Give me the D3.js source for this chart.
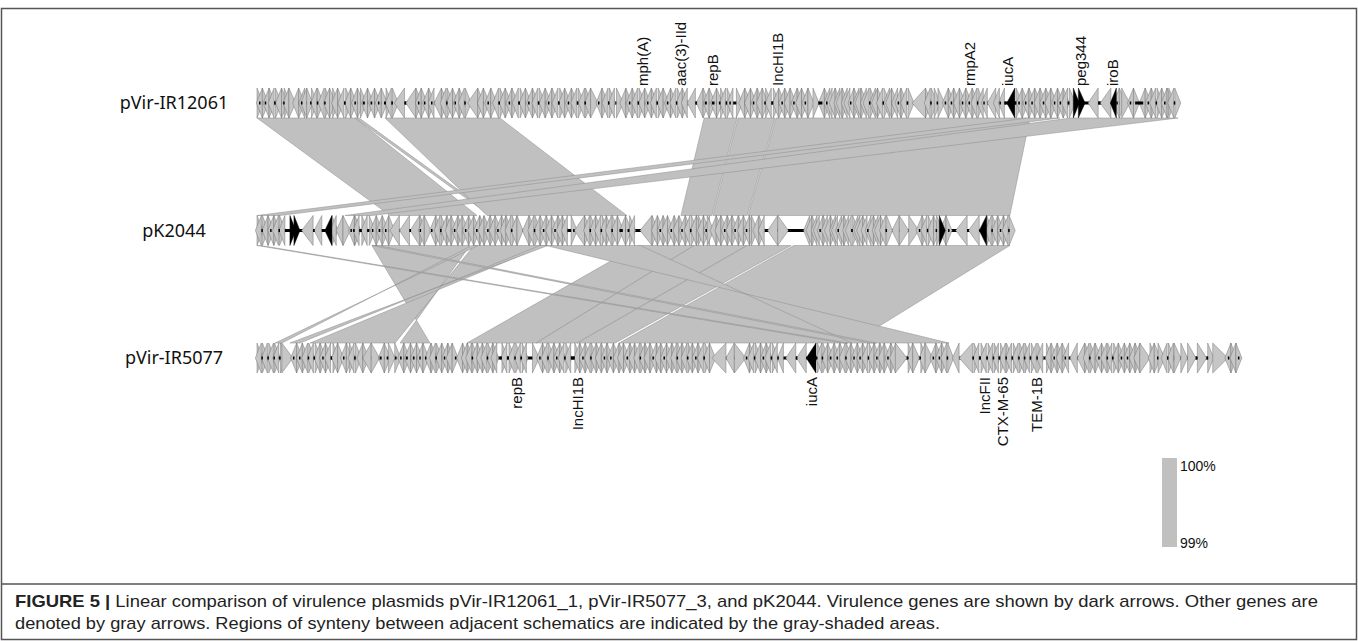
<!DOCTYPE html>
<html>
<head>
<meta charset="utf-8">
<script src="https://cdn.jsdelivr.net/npm/d3@7"></script>
<style>
  body { margin: 0; background: #fff; }
  svg { display: block; }
</style>
</head>
<body>
<div id="chart"></div>
<script>
// plasmids, top to bottom, with lengths in kb
const plasmids = ['pVir-IR12061', 'pK2044', 'pVir-IR5077'];
const plasmidLengths = [274.2, 224.15, 292.6];

// genes: "@pos" jumps to a position (kb), "+len"/"-len" is a gene on the
// forward/reverse strand, a bare number is an intergenic gap, "*" = virulence gene
const genes1 = `
@0 +.6 .2 -.8 +.7 .3 -1 +.9 -.6 .4 +1.1 -.7 +.5 .3 +.8 -.6
@9.5 +2
@11.5 -.9 +.7 .3 -.8 -.6 +1 .4 +.7 -.9 .2 +1.2 -.8 .3 +.7 -.6 +.9
@22.5 +.8 -.7 +1 -.9 .5 +.7 -.8 +1.1 .3 -.6 +.9
@30.8 +.7 .6 -.8 +.9 .5 -.7 +1 .4 -.6 +.8 .6 +.9 -.7 .3 +.6
@40.9 -3 .4 -3
@47.3 +.6 .3 -.7 +.8 .4 -1 +.7 .3 -.6
@52.7 -2.2 +.8 -.6 .3 +.9 -.7 +.6 .4 -1 +.8 -.7 .3 +.7
@62.7 -3
@65.7 +.9 -.8 +1.2 .3 -.7 +.8 -1.5 .4 +.7 -.9 +1 .2 -.8 +.6 -1.3 .5 +.9 -.7 +.8 .3 -1 +.7 -.9 .4 +1.2 -.6 +.8 .3 -.9 +.7 -1.1 .5 +.8 -.7 +.9 .3 -.8 +1 -.6 .4 +.9 -1 .3 +.8 -.7 +2.2 .3 -.9 +.8 -1 .4 +.7 -.8
@107 +2
@109 -.8 +.9 .3 -.7 +1 -.6 .4 +.8 -.9 +.7 .3 -1 +.8 -.7 .5 +.9 -.6 +1.1 .3 -.8 +.7 -.9 .4 +.8 -.7 +.9 -.6
@128.1 -2.4 .3 -2
@132.8 +.5 .6 -.7 +.8 .8 -.6 +.7 .5 +.9 -.6 .4 +.7 .3 -.8
@142.7 +1.8 -.7 +.9 -.8 +.7 .3 -1 +.8 -.7 +.6 .4 +.9 -.8 .6 +.7 -.9 +.8 .3 -.7 +1 -.6 +.9 .4 -.8 +.7 -.6 +.9 .3 -.7 +.8
@165.5 +1.6 1.2 -.6 +.5 .3 -.8 -.7 -.9 +.6 -.8 -.7 +.9 -.6 -.8 .3 -.9 +.7 -.8 -.6 +.9 -.7 -.8 .3 +.7 -.9 -.6 +.8 -.7 .4 +.9 -.8 -.6 +.7 -1.1 .3 -.7 +.8 -.9 .4 +1.2
@195 -4 +.8 -.6 .3 +.9 +.7 .4 +2 .3 -.8 +.7 .3 -.6 +.9
@208.3 -.8 +.7 .3 -.9 +.8 .4 -.7 +.6 -.8 .3 +.9 -.7 .4 -.8
@217.4 -2.5 -1.1 .3 -1.2 .2
@223.2 -2.4* .4 +.6 .5 -.7 +.8 .3 -.9 +.7 .4 -.6 +.9 -.7 +.8 .3 -.6 +.7 -.8 +.9 .4 -.7 +.6 .3 -.8 +.7 -.6 .5 +.8
@243 +1.2* .3 +2*
@247.4 -3 .6 -3.2 -1.6*
@255.8 .3 -.6 +.7 +2.4 .4 -.7 +.5 2.4 -.6 +.7 .3 -.8 +.6 -.7 .4 +.8 -.6 +.7 .3 -.6 +.5 +.7 -.8 .3 +1
`;

const genes2 = `
@0 +.7 -.6 .3 +.8 -.9 +.6 .4 -.7 +.8 -.6 .3 +.9 -.7 .2
@9.8 +1* .2 +1.8*
@13.3 -3.4 .3 -2.3 .3
@20.2 -2.1* +.7 -.6 -2 +2.2 .4 -.8 +.6
@28.6 .5 +.7 -.6 .8 +.9 -.7 .6 +.8 .4 -.9 +.7 .5 -.6 +.8 .4 -.7 +.9
@39.6 -2.8 -3 .2 -2.8 .3
@48.5 +.7 -.6 +2 .3
@52.4 -.8 +.7 -.6 .3 +.9 -.8 +.7 -.6 +.8 .3 -.9 +.7 -.6 +.8 .4 -.7 +.9 -.6 +.7 .3 -.8 +.6 -.7 +.9 .3 -.6 +.8 -.7 +.6 .4 -.9 +.7 -.6 +.8 -.7 .3 +.9 -.6 +.7
@79 -2 +.8 -.6 .3 +.9 -.7 +.8 .4 -.6 +.9 -.7 +.8 .3 -.8 +.7 -.6 +.7 -.8 .3
@93 .5 +.6 .4 -3 +.8 -.7 .3 +.9 -.6 +.7 -.8 .4 +.6 -.7 +.9 -.6 .3 +.8 -.7 +.6 1 -.8 +.6 .6 +.8 -.7
@114 -3.6 +.9 -.7 +.6 .3 -.8 +.7 -.6 +.9 .4 -.7 +.8 -.6 +.7 .3 -.9 +.8 -.6 .4 +.7 -.8 +.6 +.8 -.7 +.6 .3 -.9
@134 +2 -.7 +.8 -.6 +.9 .3 -.7 +.8 -.6 +.7 .4 -.8 +.9 -.6 +.7 .3 -.8 +.6 +1.5 -.7 +.8 -.8
@152 -3 +3.2 .6
@163.7 -.8 -.7 +.6 -.9 -.7 .3 -.8 +.6 -.7 -.9 +.7 -.8 -.6 .3 -.9 -.7 +.8 -.6 -.8 .4 +.7 -.9 -.6 -.8 +.7 -.6 .3 -.9 -.7 +.8 -.6 -.7 +.7 -.8 .3 +.9
@189 -2.2 +2.8 +3
@197 .3 -.7 +.8 -.6 .4 +.9 -.7 +.6 .3 +.8 +1* .3 -.7 +.6 .4
@208 -3.4 .4 -3.2
@215 -2.2* +.6 -.8 .3 +.7 -.9 +.6 .4 -.7 +.8 -.6 .3 +.4
`;

const genes3 = `
@0 +.7 -.6 .3 +.8 -.7 .4 +.6 -.8 .3 +.7 -.6 .5 +.6
@7.4 +3.3
@10.7 .3 -.8 +.7 .4 -.6 +.9 -.7 .3 +.8 -.6 .5 +.7 -.8 +.6 .3 -.7 +.9 -.6 .3
@22.6 +.8 -.6 +1.6 .3 -.7 +.9 +.6 -.8 .4 +1.5 -.7 +.6
@31.5 -2.5 +2.5 .6 -.8 +.7 .5 +2 .4
@41 +1.6 .4 -.7 +.6 .6 -.8 +.7 .5 -.6 +.8 .4 -.7 +.6 .3
@51 -.8 +.7 -.6 .3 +.9 -.7 +.6 .4 -.8 +.7 -.6 +.8 .3
@60.5 -.7 +.6 -.8 +.7 -.6 .2 +.8 -.7 +.6 -.9 +.7 -.6 .3 +.8 -.7 +.6 -.6
@72.4 .5 +.7 -.8 .6 +.9 -.7 .4 +.6 -.8 .5 +.7 -.6
@82 +2 .3 -.7 +.8 -.6 .4 +.9 -.7 +.6 .3 -.8 +.7 -.6 .5 +.8 -.7 1.2 +.6 -.9 +.7 .3 -.6 +.8 -.7 .3 +.9 -.6 +.7 -.8 +.7 .4 -.6 +.9 .3 -.7 +.9
@107 -.8 +.7 -.6 +.9 .3 -.7 +.8 -.6 +.7 -.8 .3 +.6 -.7 +.9 -.6 +.7 .4 -.8 +.6 -.7 +.8 .3 -.6 +.9 -.7 +.6 -.8 .3 +.7 -.6 +.8 -.7 .3 +.6 -.7 +.8 .3 -.6 +.9 -.7 .4 +.8 -.6 +.7
@135.4 -4.2 -2.5 +3.4
@145.5 .3 -.8 +.7 -.6 .4 +.9 -.7 +.6 .3 -.8 +.7 -.6 .5 +.8 -.7 .3 -1.5
@157.4 -3 .2 -2.9
@163.5 -2.9* .4 +.7 -.6 .3 +.8 -.7 +.6 .5 -.8 +.7 .4 -.6 +.9 -.7 .3 +.8 -.6 +.7 .4 -.8 +.6 .3 -.7 +.9 -.6 .4 +.7 -.8 +.6 .3 -.8 +.7 -.6 +.9 .4 -.7 +.8 -.6
@190 +3.5 .3 +.8 -.6 +2 .4 +.7 -.6 +2.2 .3 -.7 +.8 .3 -.6 +.8 -.7 .3 +1.2
@207 -2 -4
@213 .4 +.7 -.8 .6 +.9 -.7 .5 +.6 -.8 .4 +.7 -.6 .6 +.8 -.7 .3 +.9 -.6 .5 +.7 -.8 .4 +.6 -.7 .3 +.8 -.6 .5 +.7 -.8 .4 +.9 -.6
@235 +.8 -.6 +.7 .3 -.8 +.9 -.6 +.7 .4 -.8
@242 -2.2 -2.2
@246.4 +.7 -.6 .3 +.8 -.7 +.9 .4 -.6 +.7 -.8 .3 +.6 -.7 .5 +.8 -.6 +.7 .3 -.8 +.7 .3 -.6 +.9 -.7 +.8 -.6
@262.8 +3 +.7 -.6 +.8 .3 +2 -.7 .4 +.8 -.7
@273 +2 +2
@277 +2.5 .4 +2.8 .3 +1.5
@284.5 +4.5
@289 .3 -.6 +.7 -.8 +.6 .2
`;

// gene names (kb) above the top plasmid and below the bottom one
const topLabels = [['mph(A)', 114.9], ['aac(3)-IId', 126.2], ['repB', 135.6], ['IncHI1B', 155.1],
                   ['rmpA2', 212.2], ['iucA', 223.6], ['peg344', 245.1], ['iroB', 254.8]];
const bottomLabels = [['repB', 77.4], ['IncHI1B', 95.6], ['iucA', 165.2],
                      ['IncFII', 216.7], ['CTX-M-65', 222.1], ['TEM-1B', 232.0]];

// synteny blocks: [start, end] on the upper plasmid, [start, end] on the lower one (kb);
// a reversed pair on the lower plasmid is an inverted match
const links12 = [
  [0, 29.2, 39.6, 65.5],
  [29.2, 30.4, 69.4, 70.5],
  [38.1, 72.3, 68.5, 110.1],
  [133.1, 142.9, 126.2, 135.4],
  [143.2, 154.2, 135.7, 145.9],
  [154.5, 230.1, 146.2, 224.1],
  [229.5, 239.0, 0, 6.8],
  [242.1, 274.2, 26.2, 34.2]
];
const links23 = [
  [113.4, 130.1, 62.5, 83.1],
  [130.1, 145.9, 83.1, 95.3],
  [145.9, 159.0, 95.3, 106.6],
  [159.8, 224.1, 107.8, 177.1],
  [86.0, 114.1, 206.0, 177.1],
  [34.2, 63.4, 51.5, 42.6],
  [64.6, 85.7, 41.1, 15.8],
  [64.0, 65.8, 7.4, 5.4],
  [84.2, 86.6, 12.8, 9.8],
  [0, 1.2, 174.4, 175.9],
  [34.2, 36.0, 182.5, 184.3]
];

const identityRange = ['100%', '99%'];

const W = 1358, H = 641;
const svg = d3.select('#chart').append('svg').attr('width', W).attr('height', H);

// frame
svg.append('rect').attr('x', 1.5).attr('y', 8.5).attr('width', W - 3).attr('height', H - 10)
  .attr('fill', 'none').attr('stroke', '#555').attr('stroke-width', 1.5);
svg.append('line').attr('x1', 1.5).attr('x2', W - 1.5).attr('y1', 584).attr('y2', 584)
  .attr('stroke', '#555').attr('stroke-width', 1.5);

const x = d3.scaleLinear().domain([0, plasmidLengths[1]]).range([257, 1010]);
const y = d3.scalePoint().domain(plasmids).range([103, 358]);
const half = 15;
const minArrow = 6; // short genes still get a visible arrow head

function parseGenes(str) {
  const genes = [], gaps = [];
  let pos = 0;
  str.trim().split(/\s+/).forEach(tok => {
    if (tok[0] === '@') { pos = +tok.slice(1); return; }
    const vir = tok.endsWith('*');
    const t = vir ? tok.slice(0, -1) : tok;
    const v = Math.abs(parseFloat(t));
    if (t[0] === '+' || t[0] === '-') {
      genes.push({ start: pos, end: pos + v, strand: t[0] === '+' ? 1 : -1, vir });
    } else {
      gaps.push({ start: pos, end: pos + v });
    }
    pos += v;
  });
  return { genes, gaps };
}

const geneSets = [genes1, genes2, genes3].map(parseGenes);

// synteny
function drawLinks(links, upper, lower) {
  const y0 = y(upper) + half, y1 = y(lower) - half;
  svg.append('g').selectAll('path')
    .data(links)
    .join('path')
    .attr('d', d => `M${x(d[0])},${y0}L${x(d[1])},${y0}L${x(d[3])},${y1}L${x(d[2])},${y1}Z`)
    .attr('fill', '#c0c0c0')
    .attr('stroke', '#8c8c8c')
    .attr('stroke-width', 0.5);
}
drawLinks(links12, plasmids[0], plasmids[1]);
drawLinks(links23, plasmids[1], plasmids[2]);

function arrow(d, cy) {
  const a = x(d.start), b = x(d.end);
  return d.strand > 0
    ? `M${a},${cy - half}L${Math.max(b, a + minArrow)},${cy}L${a},${cy + half}Z`
    : `M${b},${cy - half}L${Math.min(a, b - minArrow)},${cy}L${b},${cy + half}Z`;
}

// tracks
plasmids.forEach((name, i) => {
  const cy = y(name);
  const set = geneSets[i];
  const g = svg.append('g');
  g.append('line')
    .attr('x1', x(0)).attr('x2', x(plasmidLengths[i]))
    .attr('y1', cy).attr('y2', cy)
    .attr('stroke', '#000').attr('stroke-width', 3);

  g.append('g').selectAll('path')
    .data(set.genes.filter(d => !d.vir))
    .join('path')
    .attr('d', d => arrow(d, cy))
    .attr('fill', '#c6c6c6')
    .attr('stroke', '#6e6e6e')
    .attr('stroke-width', 0.45);

  // intergenic backbone stays visible between arrows
  g.append('g').selectAll('line')
    .data(set.gaps)
    .join('line')
    .attr('x1', d => x(d.start)).attr('x2', d => Math.max(x(d.end), x(d.start) + 1.5))
    .attr('y1', cy).attr('y2', cy)
    .attr('stroke', '#000').attr('stroke-width', 3);

  g.append('g').selectAll('path')
    .data(set.genes.filter(d => d.vir))
    .join('path')
    .attr('d', d => arrow(d, cy))
    .attr('fill', '#000')
    .attr('stroke', '#000')
    .attr('stroke-width', 0.45);

  svg.append('text')
    .attr('x', 174).attr('y', cy).attr('dy', '0.35em')
    .attr('text-anchor', 'middle')
    .attr('font-family', 'Noto Sans').attr('font-size', 18)
    .attr('fill', '#111')
    .text(name);
});

// gene names
svg.append('g').selectAll('text')
  .data(topLabels)
  .join('text')
  .attr('transform', d => `translate(${x(d[1])},86) rotate(-90)`)
  .attr('dy', '0.35em')
  .attr('font-family', 'Liberation Sans').attr('font-size', 15)
  .attr('fill', '#111')
  .text(d => d[0]);

svg.append('g').selectAll('text')
  .data(bottomLabels)
  .join('text')
  .attr('transform', d => `translate(${x(d[1])},377) rotate(-90)`)
  .attr('dy', '0.35em')
  .attr('text-anchor', 'end')
  .attr('font-family', 'Liberation Sans').attr('font-size', 15)
  .attr('fill', '#111')
  .text(d => d[0]);

// identity legend
svg.append('rect').attr('x', 1162).attr('y', 458).attr('width', 15).attr('height', 89)
  .attr('fill', '#c0c0c0');
svg.append('g').selectAll('text')
  .data(identityRange)
  .join('text')
  .attr('x', 1180).attr('y', (d, i) => i ? 543 : 466)
  .attr('dy', '0.35em')
  .attr('font-family', 'Liberation Sans').attr('font-size', 14)
  .attr('fill', '#111')
  .text(d => d);

// caption
const cap = svg.append('g').attr('font-family', 'Liberation Sans').attr('font-size', 17).attr('fill', '#222');
const l1 = cap.append('text').attr('x', 15).attr('y', 607)
  .attr('textLength', 1303).attr('lengthAdjust', 'spacingAndGlyphs');
l1.append('tspan').attr('font-weight', 'bold').text('FIGURE 5 | ');
l1.append('tspan').text('Linear comparison of virulence plasmids pVir-IR12061_1, pVir-IR5077_3, and pK2044. Virulence genes are shown by dark arrows. Other genes are');
cap.append('text').attr('x', 15).attr('y', 629)
  .attr('textLength', 925).attr('lengthAdjust', 'spacingAndGlyphs')
  .text('denoted by gray arrows. Regions of synteny between adjacent schematics are indicated by the gray-shaded areas.');
</script>
</body>
</html>
